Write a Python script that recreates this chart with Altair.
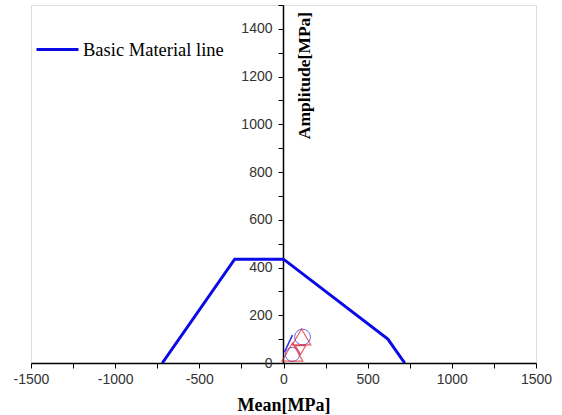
import altair as alt
import pandas as pd

# Basic material line (Haigh-type diagram)
line_mean = [-720, -290, 0, 620, 720]
line_amp = [0, 435, 435, 100, 0]
series_name = "Basic Material line"

# red open triangles near origin
tri_mean = [107, 53]
tri_amp = [109, 46]
tri_size = [340, 440]
tri_down_mean = [101]
tri_down_amp = [54]

# blue open circles near origin
circ_mean = [113, 53]
circ_amp = [109, 36]
circ_size = [250, 200]

# short blue stroke
stroke_mean = [6, 53]
stroke_amp = [46, 117]

x_ticks = [-1500, -1000, -500, 0, 500, 1000, 1500]
x_minor = [-1250, -750, -250, 250, 750, 1250]
y_ticks = [0, 200, 400, 600, 800, 1000, 1200, 1400]
y_minor = [100, 300, 500, 700, 900, 1100, 1300, 1500]

df_line = pd.DataFrame({"mean": line_mean, "amp": line_amp, "s": series_name})
df_tri = pd.DataFrame({"mean": tri_mean, "amp": tri_amp, "size": tri_size})
df_tri_d = pd.DataFrame({"mean": tri_down_mean, "amp": tri_down_amp})
df_circ = pd.DataFrame({"mean": circ_mean, "amp": circ_amp, "size": circ_size})
df_stroke = pd.DataFrame({"mean": stroke_mean, "amp": stroke_amp})

xscale = alt.Scale(domain=[-1500, 1500], nice=False, zero=False)
yscale = alt.Scale(domain=[0, 1500], nice=False)

xaxis = alt.Axis(
    values=x_ticks, title="Mean[MPa]", grid=False, orient="bottom",
    domainColor="black", domainWidth=1.5, tickColor="black", tickSize=5,
    labelFont="Liberation Sans", labelFontSize=14, labelColor="#333333",
    labelExpr="'' + datum.value",
    labelPadding=4, titleFont="Liberation Serif", titleFontSize=18,
    titleFontWeight="bold", titleColor="black", titlePadding=10,
    labelFlush=False,
)
yaxis = alt.Axis(
    values=y_ticks, title="Amplitude[MPa]", grid=False, offset=-252, orient="left",
    domainColor="black", domainWidth=1.5, tickColor="black", tickSize=5,
    labelFont="Liberation Sans", labelFontSize=14, labelColor="#333333",
    labelExpr="'' + datum.value",
    labelPadding=6, titleFont="Liberation Serif", titleFontSize=17.5,
    titleFontWeight="bold", titleColor="black",
    titleAngle=270, titleX=12, titleY=70, titleAlign="center", titleBaseline="top",
    labelFlush=False,
)
xaxis_minor = alt.Axis(values=x_minor, title=None, labels=False, domain=False, grid=False,
                       orient="bottom", tickColor="black", tickSize=5)
yaxis_minor = alt.Axis(values=y_minor, title=None, labels=False, domain=False, grid=False,
                       orient="left", offset=-252, tickColor="black", tickSize=5)

base_line = alt.Chart(df_line).mark_line(strokeWidth=3, clip=True).encode(
    x=alt.X("mean:Q", scale=xscale, axis=xaxis),
    y=alt.Y("amp:Q", scale=yscale, axis=yaxis),
    color=alt.Color(
        "s:N",
        scale=alt.Scale(domain=[series_name], range=["#0a0ae6"]),
        legend=alt.Legend(
            title=None, orient="none", legendX=4, legendY=22,
            symbolType="stroke", symbolSize=1764, symbolStrokeWidth=3,
            labelFont="Liberation Serif", labelFontSize=18.5, labelColor="black",
            labelOffset=3, padding=0,
        ),
    ),
)

circles = alt.Chart(df_circ).mark_point(shape="circle", filled=False, color="#2a2ae0", strokeWidth=1).encode(
    x=alt.X("mean:Q", scale=xscale, axis=xaxis_minor),
    y=alt.Y("amp:Q", scale=yscale, axis=yaxis_minor),
    size=alt.Size("size:Q", scale=None, legend=None),
)
stroke = alt.Chart(df_stroke).mark_line(color="#2a2ae0", strokeWidth=1.5).encode(
    x=alt.X("mean:Q", scale=xscale, axis=None), y=alt.Y("amp:Q", scale=yscale, axis=None)
)
tris = alt.Chart(df_tri).mark_point(shape="triangle-up", filled=False, color="#e0202a", strokeWidth=1.2).encode(
    x=alt.X("mean:Q", scale=xscale, axis=None), y=alt.Y("amp:Q", scale=yscale, axis=None),
    size=alt.Size("size:Q", scale=None, legend=None),
)
tris_d = alt.Chart(df_tri_d).mark_point(shape="triangle-down", filled=False, color="#e0202a", size=110, strokeWidth=1.2).encode(
    x=alt.X("mean:Q", scale=xscale, axis=None), y=alt.Y("amp:Q", scale=yscale, axis=None)
)

chart = alt.layer(base_line, circles, stroke, tris, tris_d).resolve_axis(
    x="independent", y="independent"
).properties(
    width=505, height=358, autosize="none",
    padding={"left": 31, "top": 5, "right": 26, "bottom": 52},
).configure_view(stroke="#666666", strokeWidth=1).configure(background="white")

chart.save("out.html", embed_options={"renderer": "svg", "actions": False})
